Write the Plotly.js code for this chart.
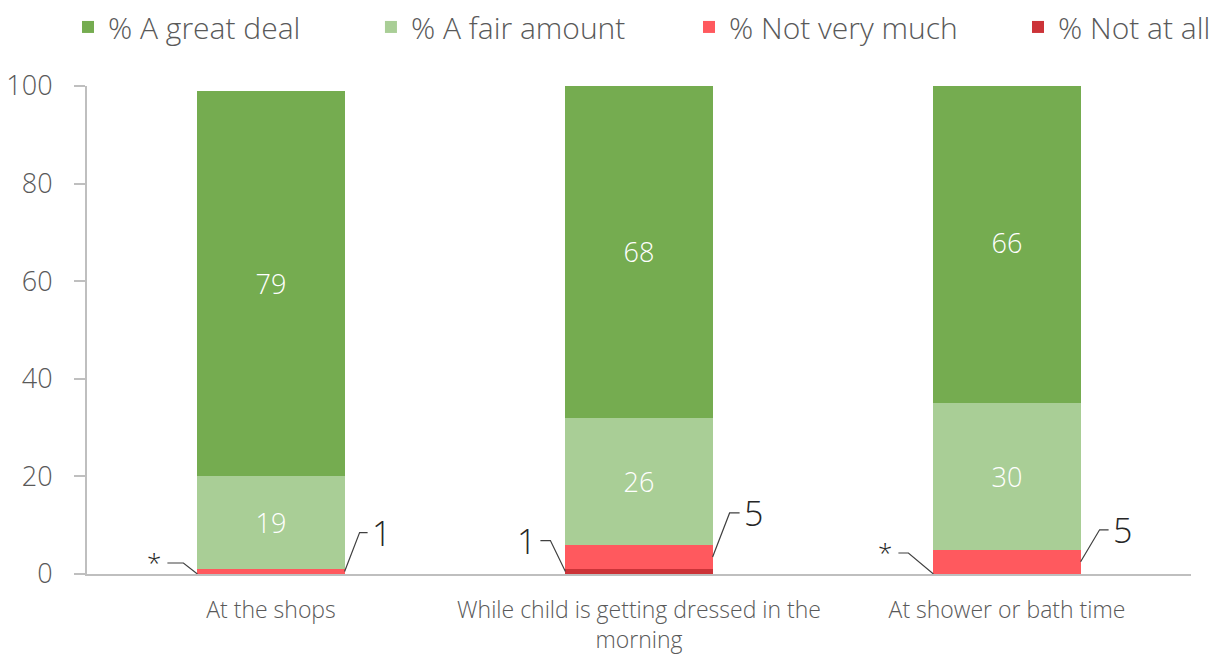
<!DOCTYPE html>
<html>
<head>
<meta charset="utf-8">
<script src="https://cdn.plot.ly/plotly-3.0.1.min.js"></script>
<style>html,body{margin:0;padding:0;background:#fff;}#chart{width:1227px;height:655px;}</style>
</head>
<body>
<div id="chart"></div>
<script>
// ---- data ----
const categories = ["At the shops", "While child is getting dressed in the morning", "At shower or bath time"];
const tickLabels = ["At the shops", "While child is getting dressed in the<br>morning", "At shower or bath time"];
const greatDeal = [79, 68, 66];
const fairAmount = [19, 26, 30];
const notVeryMuch = [1, 5, 5];
const notAtAll = [0, 1, 0];   // 0 is shown as "*"
const seriesNames = ["% A great deal", "% A fair amount", "% Not very much", "% Not at all"];

// ---- styles ----
const colors = ["#75AC50", "#A9CE96", "#FF595E", "#CC3338"];
const legendX = [-0.0172, 0.2572, 0.5453, 0.8433];
// leader-line geometry in pixels: [dx, dy, horizontal length]
const leaderLeft  = [[14, 11, 16], [15, 31, 10], [25, 21, 10]];
const leaderRight = [[15, 39, 8], [17, 44, 10], [19, 32, 9]];

const FONT = "Open Sans, sans-serif";
const W = 300;
const GREY = "#595959";
const idx = categories.map((_, i) => i);

function bar(k, y, showText) {
  return {
    type: "bar", name: seriesNames[k], x: idx, y: y,
    legend: k === 0 ? "legend" : "legend" + (k + 1),
    marker: {color: colors[k], line: {width: 0}},
    text: showText ? y.map(String) : undefined,
    textposition: showText ? "inside" : "none",
    insidetextanchor: "middle",
    textfont: {family: FONT, size: 27, color: "#ffffff", weight: W},
    hoverinfo: "none"
  };
}
const data = [
  bar(3, notAtAll, false),
  bar(2, notVeryMuch, false),
  bar(1, fairAmount, true),
  bar(0, greatDeal, true)
];

const half = 0.2; // half bar width (bargap 0.6)
const shapes = [], annotations = [];
function leader(i, side, yVal, label, geom) {
  const x = idx[i] + side * half;
  const [dx, dy, h] = geom;
  shapes.push({
    type: "path", xref: "x", yref: "y",
    xsizemode: "pixel", ysizemode: "pixel",
    xanchor: x, yanchor: yVal,
    path: `M0,0 L${side * dx},${dy} L${side * (dx + h)},${dy}`,
    line: {color: "#404040", width: 1.2}
  });
  const isStar = label === "*";
  annotations.push({
    xref: "x", yref: "y", x: x, y: yVal,
    xshift: side * (dx + h + (isStar ? 4 : 2)), yshift: dy + (isStar ? 1 : 0),
    text: label, showarrow: false,
    xanchor: side > 0 ? "left" : "right", yanchor: "middle",
    font: {family: FONT, size: isStar ? 26 : 34, color: "#262626", weight: W}
  });
}
idx.forEach(i => {
  leader(i, -1, notAtAll[i] / 2, notAtAll[i] === 0 ? "*" : String(notAtAll[i]), leaderLeft[i]);
  leader(i, 1, notAtAll[i] + notVeryMuch[i] / 2, String(notVeryMuch[i]), leaderRight[i]);
});

[-0.5, 0.5, 1.5, 2.5].forEach(b => shapes.push({
  type: "line", xref: "x", yref: "y", x0: b, x1: b, y0: 0, y1: -9,
  ysizemode: "pixel", yanchor: 0,
  line: {color: "#BFBFBF", width: 2}
}));

function legendCfg(k) {
  return {orientation: "h", x: legendX[k], xanchor: "left", y: 1.121, yanchor: "middle",
          font: {family: FONT, size: 30, color: GREY, weight: W}, itemwidth: 30,
          bgcolor: "rgba(0,0,0,0)", itemclick: false, itemdoubleclick: false};
}

const layout = {
  width: 1227, height: 655,
  margin: {l: 87, r: 36, t: 86, b: 81, autoexpand: false},
  barmode: "stack",
  bargap: 0.6,
  paper_bgcolor: "#ffffff", plot_bgcolor: "#ffffff",
  font: {family: FONT, color: GREY, weight: W},
  showlegend: true,
  legend: legendCfg(0), legend2: legendCfg(1), legend3: legendCfg(2), legend4: legendCfg(3),
  xaxis: {
    type: "linear", range: [-0.5, 2.5], tickmode: "array", tickvals: idx, ticktext: tickLabels,
    showgrid: false, zeroline: false, showline: true, linecolor: "#BFBFBF", linewidth: 2,
    ticks: "", ticklabelstandoff: 14, tickfont: {family: FONT, size: 23, color: GREY, weight: W}, fixedrange: true
  },
  yaxis: {
    range: [0, 100], tickvals: [0, 20, 40, 60, 80, 100], showgrid: false, zeroline: false,
    showline: true, linecolor: "#BFBFBF", linewidth: 2, ticks: "outside", ticklen: 11,
    tickcolor: "#BFBFBF", tickwidth: 2, ticklabelstandoff: 16,
    tickfont: {family: FONT, size: 27, color: GREY, weight: W}, fixedrange: true
  },
  shapes: shapes,
  annotations: annotations
};
Plotly.newPlot("chart", data, layout, {displayModeBar: false, staticPlot: true});
</script>
</body>
</html>
